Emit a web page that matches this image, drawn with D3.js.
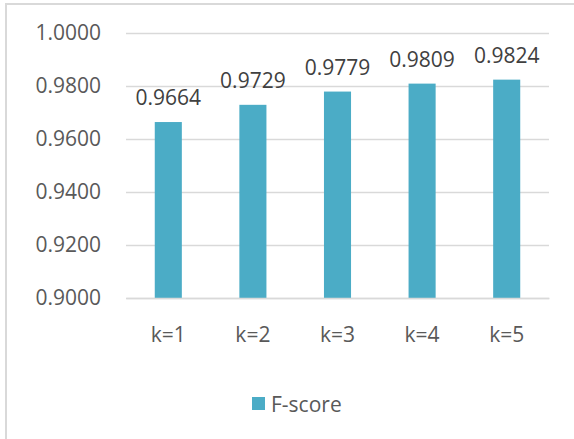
<!DOCTYPE html>
<html>
<head>
<meta charset="utf-8">
<script src="https://cdn.jsdelivr.net/npm/d3@7"></script>
<style>
  html, body { margin: 0; padding: 0; background: #fff; }
  svg { display: block; font-family: "Open Sans", sans-serif; }
</style>
</head>
<body>
<svg id="chart" width="574" height="439"></svg>
<script>
// F-score for each k
const categories = ["k=1", "k=2", "k=3", "k=4", "k=5"];
const fscore = [0.9664, 0.9729, 0.9779, 0.9809, 0.9824];
const yTicks = [0.90, 0.92, 0.94, 0.96, 0.98, 1.00];
const seriesName = "F-score";

const svg = d3.select("#chart");
const W = 574, H = 439;
const plot = { left: 126, right: 549, top: 33, bottom: 298 };
const barColor = "#4BACC6";
const gridColor = "#D9D9D9";
const textColor = "#595959";

// outer frame (top and left edges)
svg.append("path")
  .attr("d", `M6,${H} L6,4 L${W},4`)
  .attr("fill", "none")
  .attr("stroke", gridColor)
  .attr("stroke-width", 2);

const x = d3.scaleBand()
  .domain(categories)
  .range([plot.left, plot.right])
  .paddingInner(0.68)
  .paddingOuter(0.34);

const y = d3.scaleLinear()
  .domain([0.90, 1.00])
  .range([plot.bottom, plot.top]);

// horizontal gridlines + value labels
const yAxis = d3.axisLeft(y)
  .tickValues(yTicks)
  .tickFormat(d3.format(".4f"))
  .tickSize(-(plot.right - plot.left))
  .tickPadding(25);

const gy = svg.append("g")
  .attr("transform", `translate(${plot.left},0)`)
  .call(yAxis);
gy.select(".domain").remove();
gy.selectAll(".tick line").attr("stroke", gridColor).attr("stroke-width", 1.5);
gy.selectAll(".tick text")
  .attr("fill", textColor)
  .style("font-size", "21px")
  .style("font-family", "'Open Sans', sans-serif");

// bars
svg.append("g").selectAll("rect")
  .data(fscore)
  .join("rect")
  .attr("x", (d, i) => x(categories[i]))
  .attr("y", d => y(d))
  .attr("width", x.bandwidth())
  .attr("height", d => y(0.90) - y(d))
  .attr("fill", barColor);

// data labels
svg.append("g").selectAll("text")
  .data(fscore)
  .join("text")
  .attr("x", (d, i) => x(categories[i]) + x.bandwidth() / 2)
  .attr("y", d => y(d) - 25)
  .attr("text-anchor", "middle")
  .attr("dominant-baseline", "central")
  .attr("fill", "#404040")
  .style("font-size", "21px")
  .text(d => d3.format(".4f")(d));

// category axis
const xAxis = d3.axisBottom(x).tickSize(0).tickPadding(29);
const gx = svg.append("g")
  .attr("transform", `translate(0,${plot.bottom})`)
  .call(xAxis);
gx.select(".domain").attr("stroke", gridColor).attr("stroke-width", 1.5);
gx.selectAll(".tick text")
  .attr("fill", textColor)
  .style("font-size", "21px")
  .style("font-family", "'Open Sans', sans-serif");

// legend
const legend = svg.append("g").attr("transform", "translate(252,397)");
legend.append("rect").attr("width", 13).attr("height", 13).attr("fill", barColor);
legend.append("text")
  .attr("x", 19).attr("y", 6.5)
  .attr("dominant-baseline", "central")
  .attr("fill", textColor)
  .style("font-size", "21px")
  .text(seriesName);
</script>
</body>
</html>
